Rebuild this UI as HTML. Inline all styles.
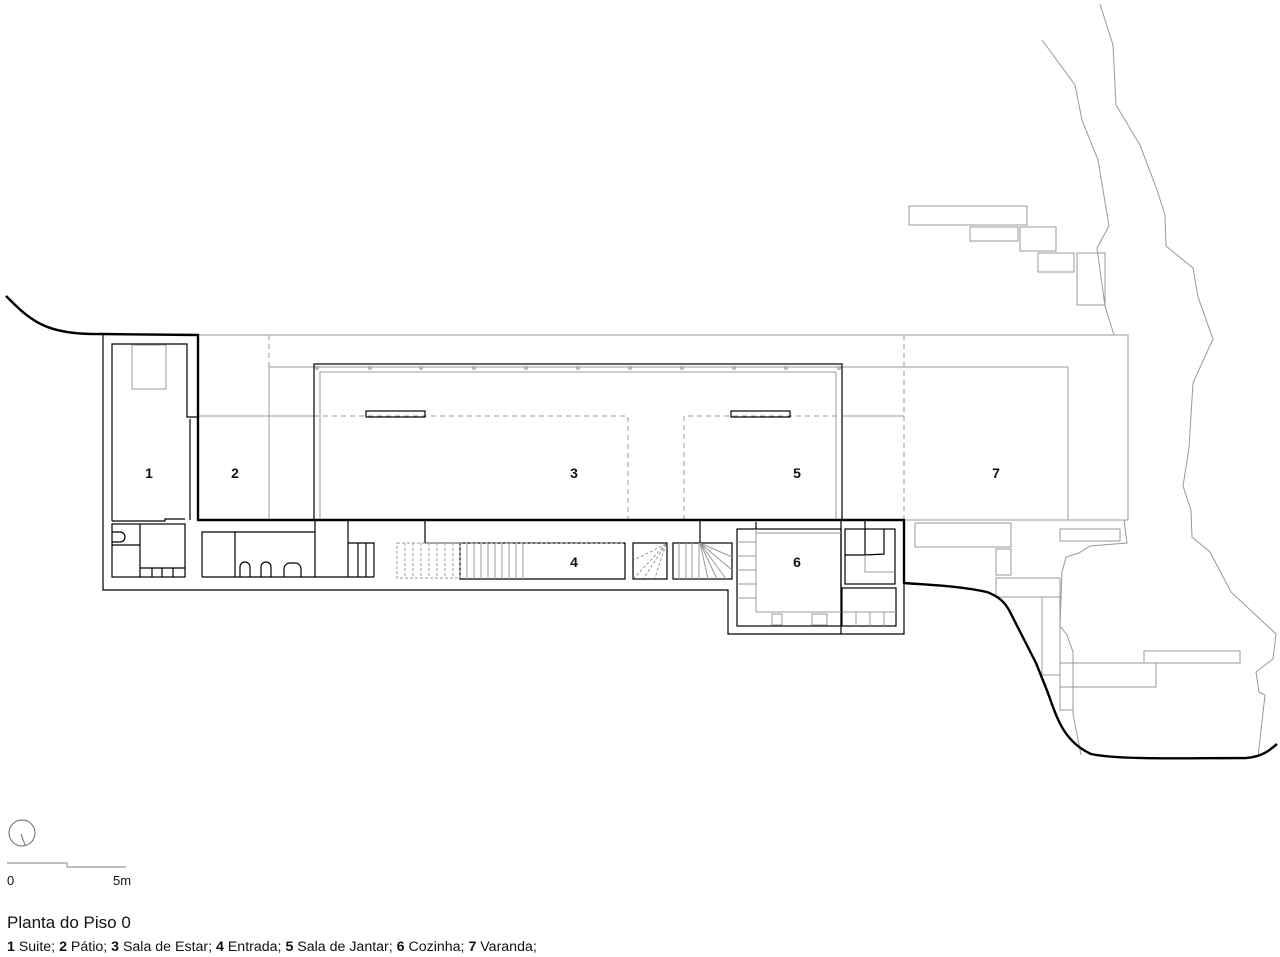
<!DOCTYPE html>
<html><head><meta charset="utf-8"><style>
html,body{margin:0;padding:0;background:#fff;width:1280px;height:957px;overflow:hidden}
svg{display:block}
text{font-family:"Liberation Sans",sans-serif}
</style></head><body>
<svg width="1280" height="957" viewBox="0 0 1280 957" xmlns="http://www.w3.org/2000/svg">
<g fill="none" stroke="#999" stroke-width="1">
<polyline points="1042,40 1075,85 1082,120 1098,160 1103,190 1109,226 1097,248 1105,306 1114,335"/>
<polyline points="1100,4 1113,45 1116,105 1140,145 1157,190 1165,215 1166,246 1193,268 1198,297 1213,339 1193,383 1189,448 1183,486 1191,510 1192,537 1210,552 1231,592 1276,634 1273,659 1256,672 1259,692 1265,695 1258,757"/>
<polyline points="1124,520 1127,543 1090,546 1079,553 1066,557 1062,572 1060,626 1067,635 1073,652 1073,714 1081,755"/>
<rect x="909" y="206" width="118" height="19"/>
<rect x="970" y="227" width="48" height="14"/>
<rect x="1020" y="227" width="36" height="24"/>
<rect x="1038" y="253" width="36" height="19"/>
<rect x="1077" y="253" width="28" height="52"/>
<rect x="915" y="523" width="96" height="24"/>
<rect x="1060" y="529" width="60" height="12"/>
<rect x="996" y="549" width="15" height="26"/>
<rect x="996" y="578" width="64" height="19"/>
<rect x="1042" y="597" width="18" height="78"/>
<rect x="1060" y="663" width="96" height="24"/>
<rect x="1144" y="651" width="96" height="12"/>
<polyline points="1060,626 1060,710 1073,710 1073,663"/>
<rect x="198" y="335" width="930" height="185"/>
<polyline points="269,520 269,367 1068,367 1068,520"/>
<line x1="198" y1="416" x2="314" y2="416"/>
<rect x="320" y="372" width="516" height="148"/>
<line x1="842" y1="416" x2="904" y2="416"/>
</g>
<g fill="none" stroke="#999" stroke-width="1" stroke-dasharray="5,4">
<line x1="269" y1="335" x2="269" y2="520"/>
<line x1="904" y1="335" x2="904" y2="520"/>
<polyline points="314,416 628,416 628,520"/>
<polyline points="684,520 684,416 836,416"/>
</g>
<g fill="#fff" stroke="#777" stroke-width="0.8">
<circle cx="317" cy="368" r="1.3"/><circle cx="370" cy="368" r="1.3"/><circle cx="421" cy="368" r="1.3"/><circle cx="474" cy="368" r="1.3"/><circle cx="526" cy="368" r="1.3"/><circle cx="578" cy="368" r="1.3"/><circle cx="630" cy="368" r="1.3"/><circle cx="682" cy="368" r="1.3"/><circle cx="734" cy="368" r="1.3"/><circle cx="786" cy="368" r="1.3"/><circle cx="839" cy="368" r="1.3"/>
</g>
<g fill="none" stroke="#000" stroke-width="1.2">
<rect x="314" y="364" width="528" height="156"/>
<rect x="366" y="411" width="59" height="6"/>
<rect x="731" y="411" width="59" height="6"/>
<polyline points="103,335 103,590 728,590 728,634 904,634 904,520"/>
<polyline points="112,521 112,344 187,344 187,417 197,417"/>
<line x1="190" y1="419" x2="190" y2="520"/>
<polyline points="112,521 165,521 165,519 185,519"/>
<rect x="112" y="524" width="73" height="53"/>
<line x1="140" y1="524" x2="140" y2="577"/>
<line x1="112" y1="545" x2="140" y2="545"/>
<line x1="140" y1="568" x2="185" y2="568"/>
<line x1="152" y1="568" x2="152" y2="577"/><line x1="162" y1="568" x2="162" y2="577"/><line x1="173" y1="568" x2="173" y2="577"/>
<path d="M112,532 h8 a5,5 0 0 1 0,10 h-8"/>
<polyline points="202,577 202,532 315,532 315,521"/>
<line x1="202" y1="577" x2="374" y2="577"/>
<line x1="235" y1="532" x2="235" y2="577"/>
<line x1="315" y1="532" x2="315" y2="577"/>
<polyline points="348,521 348,577"/>
<polyline points="348,543 374,543 374,577"/>
<line x1="358" y1="543" x2="358" y2="577"/><line x1="366" y1="543" x2="366" y2="577"/>
<path d="M240,577 v-10 a5,5 0 0 1 10,0 v10 M261,577 v-10 a5,5 0 0 1 10,0 v10 M284,577 v-8 a6,6 0 0 1 6,-6 h5 a6,6 0 0 1 6,6 v8"/>
<polyline points="425,521 425,543 625,543 625,579 460,579 460,543"/>
<rect x="633" y="543" width="34" height="36"/>
<rect x="673" y="543" width="59" height="36"/>
<line x1="700" y1="521" x2="700" y2="543"/>
<rect x="737" y="529" width="104" height="97"/>
<line x1="756" y1="522" x2="756" y2="529"/>
<line x1="841" y1="521" x2="841" y2="634"/>
<rect x="845" y="529" width="50" height="55"/>
<rect x="842" y="588" width="54" height="38"/>
<polyline points="865,521 865,555 884,554 884,529"/>
<line x1="845" y1="555" x2="865" y2="555"/>
</g>
<g fill="none" stroke="#999" stroke-width="1">
<rect x="132" y="345" width="34" height="44"/>
<line x1="756" y1="529" x2="756" y2="612"/>
<line x1="756" y1="533" x2="841" y2="533"/>
<line x1="756" y1="612" x2="841" y2="612"/>
<line x1="737" y1="542" x2="756" y2="542"/><line x1="737" y1="556" x2="756" y2="556"/><line x1="737" y1="570" x2="756" y2="570"/><line x1="737" y1="584" x2="756" y2="584"/><line x1="737" y1="598" x2="756" y2="598"/>
<rect x="772" y="614" width="10" height="11"/>
<rect x="812" y="614" width="15" height="11"/>
<line x1="842" y1="612" x2="896" y2="612"/>
<line x1="856" y1="612" x2="856" y2="626"/><line x1="870" y1="612" x2="870" y2="626"/><line x1="884" y1="612" x2="884" y2="626"/>
<polyline points="865,555 865,572 895,572"/>
<line x1="467" y1="543" x2="467" y2="579"/><line x1="474" y1="543" x2="474" y2="579"/><line x1="481" y1="543" x2="481" y2="579"/><line x1="488" y1="543" x2="488" y2="579"/><line x1="495" y1="543" x2="495" y2="579"/><line x1="502" y1="543" x2="502" y2="579"/><line x1="509" y1="543" x2="509" y2="579"/><line x1="516" y1="543" x2="516" y2="579"/><line x1="523" y1="543" x2="523" y2="579"/>
<line x1="679" y1="543" x2="679" y2="579"/><line x1="686" y1="543" x2="686" y2="579"/><line x1="692" y1="543" x2="692" y2="579"/><line x1="699" y1="543" x2="699" y2="579"/>
<path d="M700,543 L708,579 M700,543 L717,579 M700,543 L726,579 M700,543 L732,570 M700,543 L732,557"/>
</g>
<g fill="none" stroke="#999" stroke-width="1" stroke-dasharray="3,2">
<rect x="397" y="543" width="63" height="35"/>
<line x1="405" y1="543" x2="405" y2="578"/><line x1="413" y1="543" x2="413" y2="578"/><line x1="421" y1="543" x2="421" y2="578"/><line x1="429" y1="543" x2="429" y2="578"/><line x1="437" y1="543" x2="437" y2="578"/><line x1="445" y1="543" x2="445" y2="578"/><line x1="453" y1="543" x2="453" y2="578"/>
<path d="M666,544 L634,578 M666,544 L644,578 M666,544 L634,560 M666,544 L655,578"/>
<line x1="425" y1="543" x2="625" y2="543" stroke="#888"/>
</g>
<g fill="none" stroke="#000" stroke-width="2.4" stroke-linejoin="round">
<path d="M6,296 C30,320 45,335 100,334 L198,335 L198,520 L904,520 L904,583 C930,585 960,586 987,592 C1000,597 1005,603 1009,610 L1036,663 L1046,688 C1055,710 1060,740 1091,754 C1120,760 1180,758 1246,758 C1262,757 1270,750 1277,744"/>
</g>
<g font-size="14" font-weight="bold" fill="#111" text-anchor="middle">
<text x="149" y="478">1</text><text x="235" y="478">2</text><text x="574" y="478">3</text><text x="797" y="478">5</text><text x="996" y="478">7</text>
<text x="574" y="567">4</text><text x="797" y="567">6</text>
</g>
<circle cx="22" cy="833" r="13" fill="none" stroke="#666" stroke-width="1"/>
<line x1="21" y1="834" x2="25" y2="845" stroke="#666" stroke-width="1"/>
<polyline points="7,863 67,863 67,867 126,867" fill="none" stroke="#999" stroke-width="1.2"/>
<text x="7" y="885" font-size="13" fill="#111">0</text>
<text x="113" y="885" font-size="13" fill="#111">5m</text>
<text x="7" y="928" font-size="17" fill="#111">Planta do Piso 0</text>
<text x="7" y="951" font-size="14.2" fill="#111"><tspan font-weight="bold">1</tspan> Suite; <tspan font-weight="bold">2</tspan> Pátio; <tspan font-weight="bold">3</tspan> Sala de Estar; <tspan font-weight="bold">4</tspan> Entrada; <tspan font-weight="bold">5</tspan> Sala de Jantar; <tspan font-weight="bold">6</tspan> Cozinha; <tspan font-weight="bold">7</tspan> Varanda;</text>
</svg>
</body></html>
